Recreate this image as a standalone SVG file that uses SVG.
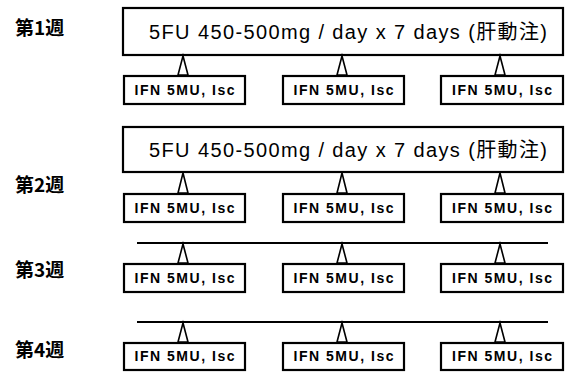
<svg xmlns="http://www.w3.org/2000/svg" width="567" height="374" viewBox="0 0 567 374">
<style>
.lbl{font-family:"Noto Sans CJK JP","Noto Sans",sans-serif;font-weight:bold;font-size:19px;fill:#000}
.big{fill:#fff;stroke:#000;stroke-width:2.2}
.sm{fill:#fff;stroke:#000;stroke-width:2.2}
.bt{font-family:"Liberation Sans","Noto Sans CJK JP",sans-serif;font-size:20px;fill:#000}
.st{font-family:"Liberation Sans",sans-serif;font-weight:bold;font-size:14px;fill:#000}
.bar{stroke:#000;stroke-width:2.2;fill:none}
.tri{fill:#fff;stroke:#000;stroke-width:1.6;stroke-linejoin:miter}
</style>
<rect width="567" height="374" fill="#fff"/>
<g id="week-labels">
<text class="lbl" x="15" y="35">第1週</text>
<text class="lbl" x="15" y="192">第2週</text>
<text class="lbl" x="15" y="277">第3週</text>
<text class="lbl" x="15" y="357">第4週</text>
</g>
<g id="w1-5fu"><rect class="big" x="123" y="8" width="440" height="47"/><text class="bt" x="149" y="39" textLength="398">5FU 450-500mg / day x 7 days (肝動注)</text></g>
<g id="w2-5fu"><rect class="big" x="123" y="127" width="440" height="45"/><text class="bt" x="149" y="157" textLength="398">5FU 450-500mg / day x 7 days (肝動注)</text></g>
<g id="w1-ifn1"><rect class="sm" x="124" y="76" width="121" height="28"/><text class="st" x="184.5" y="95" text-anchor="middle" textLength="100">IFN 5MU, Isc</text></g>
<g id="w1-ifn2"><rect class="sm" x="283" y="76" width="121" height="28"/><text class="st" x="343.5" y="95" text-anchor="middle" textLength="100">IFN 5MU, Isc</text></g>
<g id="w1-ifn3"><rect class="sm" x="441" y="76" width="122" height="28"/><text class="st" x="502" y="95" text-anchor="middle" textLength="100">IFN 5MU, Isc</text></g>
<g id="w2-ifn1"><rect class="sm" x="124" y="194" width="121" height="28"/><text class="st" x="184.5" y="213" text-anchor="middle" textLength="100">IFN 5MU, Isc</text></g>
<g id="w2-ifn2"><rect class="sm" x="283" y="194" width="121" height="28"/><text class="st" x="343.5" y="213" text-anchor="middle" textLength="100">IFN 5MU, Isc</text></g>
<g id="w2-ifn3"><rect class="sm" x="441" y="194" width="122" height="28"/><text class="st" x="502" y="213" text-anchor="middle" textLength="100">IFN 5MU, Isc</text></g>
<g id="w3-ifn1"><rect class="sm" x="124" y="264" width="121" height="28"/><text class="st" x="184.5" y="283" text-anchor="middle" textLength="100">IFN 5MU, Isc</text></g>
<g id="w3-ifn2"><rect class="sm" x="283" y="264" width="121" height="28"/><text class="st" x="343.5" y="283" text-anchor="middle" textLength="100">IFN 5MU, Isc</text></g>
<g id="w3-ifn3"><rect class="sm" x="441" y="264" width="122" height="28"/><text class="st" x="502" y="283" text-anchor="middle" textLength="100">IFN 5MU, Isc</text></g>
<g id="w4-ifn1"><rect class="sm" x="124" y="343" width="121" height="27"/><text class="st" x="184.5" y="361" text-anchor="middle" textLength="100">IFN 5MU, Isc</text></g>
<g id="w4-ifn2"><rect class="sm" x="283" y="343" width="121" height="27"/><text class="st" x="343.5" y="361" text-anchor="middle" textLength="100">IFN 5MU, Isc</text></g>
<g id="w4-ifn3"><rect class="sm" x="441" y="343" width="122" height="27"/><text class="st" x="502" y="361" text-anchor="middle" textLength="100">IFN 5MU, Isc</text></g>
<g id="connectors">
<line class="bar" x1="137" y1="243" x2="548" y2="243"/>
<line class="bar" x1="137" y1="322" x2="548" y2="322"/>
<polygon class="tri" points="183,56 178,75 188,75"/>
<polygon class="tri" points="342,56 337,75 347,75"/>
<polygon class="tri" points="500,56 495,75 505,75"/>
<polygon class="tri" points="183,173 178,193 188,193"/>
<polygon class="tri" points="342,173 337,193 347,193"/>
<polygon class="tri" points="500,173 495,193 505,193"/>
<polygon class="tri" points="183,244 178,263 188,263"/>
<polygon class="tri" points="342,244 337,263 347,263"/>
<polygon class="tri" points="500,244 495,263 505,263"/>
<polygon class="tri" points="183,323 178,342 188,342"/>
<polygon class="tri" points="342,323 337,342 347,342"/>
<polygon class="tri" points="500,323 495,342 505,342"/>
</g>
</svg>
